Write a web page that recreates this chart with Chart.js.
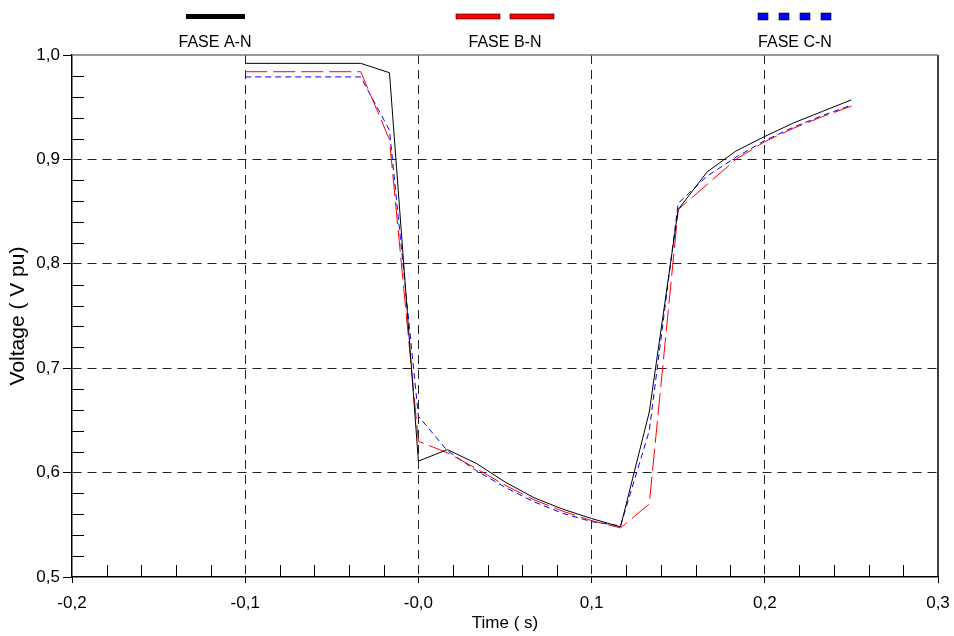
<!DOCTYPE html>
<html>
<head>
<meta charset="utf-8">
<script src="https://cdn.jsdelivr.net/npm/chart.js@4.4.1/dist/chart.umd.min.js"></script>
<style>
  html, body { margin: 0; background: #fff; }
</style>
</head>
<body>
<canvas id="chart" width="954" height="636"></canvas>
<script>
// time in seconds, voltage in pu
const timeS = [-0.1, -0.0333, -0.0167, 0.0, 0.0167, 0.0333, 0.05, 0.0667, 0.0833, 0.1, 0.1167, 0.1333, 0.15, 0.1667, 0.1833, 0.2, 0.2167, 0.2333, 0.25];
const faseA = [0.992, 0.992, 0.983, 0.611, 0.622, 0.609, 0.591, 0.576, 0.565, 0.556, 0.548, 0.658, 0.852, 0.888, 0.908, 0.922, 0.935, 0.946, 0.957];
const faseB = [0.984, 0.984, 0.919, 0.630, 0.619, 0.604, 0.588, 0.574, 0.563, 0.554, 0.547, 0.570, 0.852, 0.876, 0.900, 0.917, 0.930, 0.941, 0.951];
const faseC = [0.979, 0.979, 0.928, 0.654, 0.621, 0.602, 0.586, 0.572, 0.561, 0.553, 0.549, 0.640, 0.858, 0.884, 0.902, 0.918, 0.931, 0.942, 0.952];
const seriesNames = ["FASE A-N", "FASE B-N", "FASE C-N"];
const xTicks = [-0.2, -0.1, 0.0, 0.1, 0.2, 0.3];
const yTicks = [0.5, 0.6, 0.7, 0.8, 0.9, 1.0];

const FONT = "'Liberation Sans Narrow', 'Arial Narrow', 'Liberation Sans', sans-serif";

function pts(ys) {
  return timeS.map((t, i) => ({ x: t, y: ys[i] }));
}
function fmt(v) {
  let s = Math.abs(v).toFixed(1).replace(".", ",");
  return (v < 0 || Math.abs(v) < 1e-9 ? "-" : "") + s;
}

// minor ticks, top/right frame, and the legend above the plot
const extras = {
  id: "extras",
  afterDraw(chart) {
    const { ctx, chartArea: a, scales } = chart;
    const x = scales.x, y = scales.y;
    ctx.save();
    ctx.strokeStyle = "#000";
    ctx.lineWidth = 1;
    ctx.beginPath();
    for (let i = 1; i < 25; i++) {
      if (i % 5 === 0) continue;
      const px = Math.round(x.getPixelForValue(-0.2 + i * 0.02)) + 0.5;
      ctx.moveTo(px, a.bottom);
      ctx.lineTo(px, a.bottom - 12);
      const py = Math.round(y.getPixelForValue(0.5 + i * 0.02)) + 0.5;
      ctx.moveTo(a.left, py);
      ctx.lineTo(a.left + 12, py);
    }
    ctx.stroke();
    // right frame
    ctx.lineWidth = 1.5;
    ctx.beginPath();
    ctx.moveTo(a.right, a.top);
    ctx.lineTo(a.right, a.bottom);
    ctx.stroke();
    // top frame
    ctx.strokeStyle = "#777";
    ctx.beginPath();
    ctx.moveTo(a.left, a.top);
    ctx.lineTo(a.right, a.top);
    ctx.stroke();

    // legend
    const centers = [215, 505, 795];
    ctx.font = "16px " + FONT;
    ctx.fillStyle = "#000";
    ctx.textAlign = "center";
    ctx.textBaseline = "middle";
    centers.forEach((cx, i) => ctx.fillText(seriesNames[i], cx, 43));
    // A: solid black bar
    ctx.fillStyle = "#000";
    ctx.fillRect(186, 14, 59, 5);
    // B: two red dashes with dark outline
    ctx.fillStyle = "#ff0000";
    ctx.strokeStyle = "#000";
    ctx.lineWidth = 0.6;
    [[456, 44], [510, 44]].forEach(([x0, w]) => {
      ctx.fillRect(x0, 14, w, 5);
      ctx.strokeRect(x0, 14, w, 5);
    });
    // C: four blue squares
    ctx.fillStyle = "#0000ff";
    [758, 779, 800, 821].forEach(x0 => {
      ctx.fillRect(x0, 13, 10, 7);
      ctx.strokeRect(x0, 13, 10, 7);
    });
    ctx.restore();
  }
};

const gridColor = (ctx) => {
  const v = ctx.tick ? ctx.tick.value : null;
  if (v === null) return "#000";
  const s = ctx.scale;
  if (Math.abs(v - s.min) < 1e-9 || Math.abs(v - s.max) < 1e-9) return "rgba(0,0,0,0)";
  return "#222";
};

new Chart(document.getElementById("chart"), {
  type: "line",
  data: {
    datasets: [
      { label: seriesNames[0], data: pts(faseA), borderColor: "#000", borderWidth: 1 },
      { label: seriesNames[1], data: pts(faseB), borderColor: "#ff0000", borderWidth: 1, borderDash: [22, 6] },
      { label: seriesNames[2], data: pts(faseC), borderColor: "#0000ff", borderWidth: 1, borderDash: [6, 4] }
    ]
  },
  options: {
    responsive: false,
    animation: false,
    layout: { padding: { top: 55, right: 16, left: 0, bottom: 0 } },
    elements: { point: { radius: 0 }, line: { tension: 0 } },
    plugins: { legend: { display: false }, tooltip: { enabled: false } },
    scales: {
      x: {
        type: "linear",
        min: -0.2,
        max: 0.3,
        afterFit(s) { s.height = 59; s.paddingLeft = 0; s.paddingRight = 0; },
        afterBuildTicks(s) { s.ticks = xTicks.map(v => ({ value: v })); },
        ticks: {
          color: "#000",
          font: { family: FONT, size: 17 },
          padding: 10,
          maxRotation: 0,
          autoSkip: false,
          callback: v => fmt(v)
        },
        grid: { color: gridColor, tickColor: "#000", tickLength: 6, lineWidth: 1 },
        border: { display: true, color: "#000", width: 1.5, dash: [9, 6] },
        title: {
          display: true,
          text: "Time ( s)",
          color: "#000",
          font: { family: FONT, size: 17 },
          padding: { top: 0, bottom: 2 }
        }
      },
      y: {
        min: 0.5,
        max: 1.0,
        afterFit(s) { s.width = 72; s.paddingTop = 0; s.paddingBottom = 0; },
        afterBuildTicks(s) { s.ticks = yTicks.map(v => ({ value: v })); },
        ticks: {
          color: "#000",
          font: { family: FONT, size: 17 },
          padding: 3,
          callback: v => fmt(v).replace(/^-/, "")
        },
        grid: { color: gridColor, tickColor: "#000", tickLength: 9, lineWidth: 1 },
        border: { display: true, color: "#000", width: 1.5, dash: [9, 6] },
        title: {
          display: true,
          text: "Voltage ( V pu)",
          color: "#000",
          font: { family: FONT, size: 21 },
          padding: { top: 6, bottom: 0 }
        }
      }
    }
  },
  plugins: [extras]
});
</script>
</body>
</html>
